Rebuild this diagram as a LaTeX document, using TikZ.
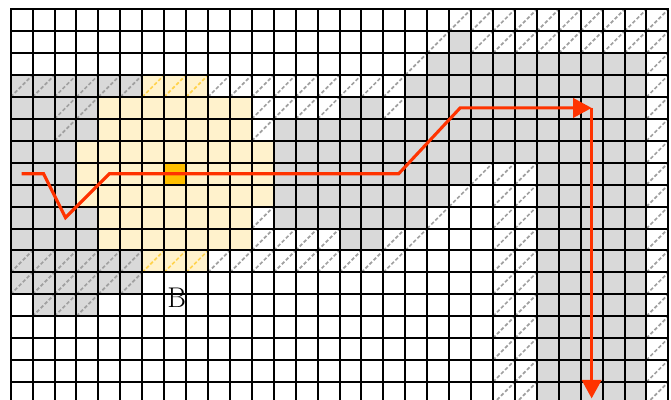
\documentclass[tikz,border=0pt]{standalone}
\usetikzlibrary{arrows.meta}
\definecolor{ink}{HTML}{000000}
\definecolor{cellgray}{HTML}{D9D9D9}
\definecolor{zone}{HTML}{FFF2CC}
\definecolor{goalcell}{HTML}{FFC000}
\definecolor{hatchgray}{HTML}{A0A0A0}
\definecolor{hatchgold}{HTML}{FFD34D}
\definecolor{route}{HTML}{FF3300}
\tikzset{
  freecell/.style={fill=cellgray},
  zonecell/.style={fill=zone},
  hitcell/.style={fill=goalcell},
  hatch/.style={draw=hatchgray,line width=1.1pt,dash pattern=on 2.3pt off 1.4pt},
  goldhatch/.style={hatch,draw=hatchgold},
  gridline/.style={draw=ink,line width=1.3pt,line cap=rect},
  routeline/.style={draw=route,line width=2pt,-{Triangle[length=12pt,width=12.5pt]}}
}

\begin{document}
\begin{tikzpicture}[x=0.5cm,y=-0.5cm]
    \useasboundingbox (-0.488,-0.424) rectangle (30.12,17.82);
    \clip (-0.488,-0.424) rectangle (30.12,17.82);
    \fill[white] (-0.488,-0.424) rectangle (30.12,17.82);
    \foreach \xa/\ya/\xb/\yb in {20/1/21/2,19/2/29/3,18/3/29/5,0/3/6/4,0/4/4/6,15/4/17/5,
        12/5/29/7,0/6/3/9,12/7/21/8,24/7/29/18,12/8/20/9,0/9/4/11,12/9/19/10,
        15/10/17/11,0/11/6/13,1/13/4/14}
      \fill[freecell] (\xa,\ya) rectangle (\xb,\yb);
    \foreach \xa/\ya/\xb/\yb in {6/3/9/4,4/4/11/6,3/6/12/9,4/9/11/11,6/11/9/12}
      \fill[zonecell] (\xa,\ya) rectangle (\xb,\yb);
    \fill[hitcell] (7,7) rectangle (8,8);
    \foreach \xa/\xb/\ya/\yb in {29/29/0/17,20/28/0/0,19/19/1/1,21/28/1/1,18/18/2/2,
        0/5/3/3,9/17/3/3,2/3/4/4,11/14/4/4,17/17/4/4,2/2/5/5,11/11/5/5,
        21/21/7/7,22/23/7/17,20/20/8/8,11/11/9/9,19/19/9/9,11/14/10/10,
        17/18/10/10,0/5/11/11,9/17/11/11,0/5/12/12,1/3/13/13}
      \foreach \i in {\xa,...,\xb}
        \foreach \j in {\ya,...,\yb}
          \draw[hatch] (\i,\j+1) -- (\i+1,\j);
    \foreach \j in {3,11}
      \foreach \i in {6,7,8}
        \draw[goldhatch] (\i,\j+1) -- (\i+1,\j);
    \foreach \i in {0,...,30}
      \draw[gridline] (\i,0) -- (\i,18);
    \foreach \j in {0,...,18}
      \draw[gridline] (0,\j) -- (30,\j);
    \coordinate (start) at (0.5,7.5);
    \coordinate (dip0) at (1.5,7.5);
    \coordinate (dip) at (2.5,9.5);
    \coordinate (rise) at (4.5,7.5);
    \coordinate (bend) at (17.7,7.5);
    \coordinate (climb) at (20.5,4.5);
    \coordinate (turn) at (26.5,4.5);
    \coordinate (exit) at (26.5,17.75);
    \draw[routeline] (start) -- (dip0) -- (dip) -- (rise) -- (bend) -- (climb) -- (turn);
    \draw[routeline] (turn) -- (exit);
    \node[font=\fontsize{18.5}{22}\selectfont,inner sep=0pt] (labelB) at (7.57,13.17) {B};
  \end{tikzpicture}
\end{document}
